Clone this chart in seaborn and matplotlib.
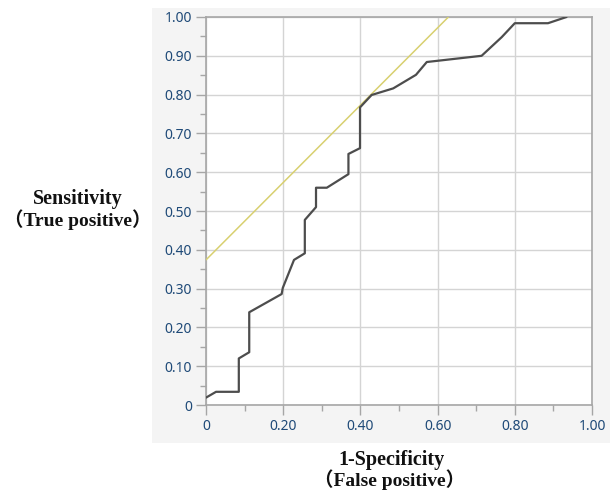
import matplotlib
matplotlib.use("Agg")
import matplotlib.pyplot as plt
from matplotlib.patches import Rectangle
from matplotlib.ticker import MultipleLocator, FixedLocator
import seaborn as sns
import pandas as pd

# ROC curve
fpr = [0.0, 0.026, 0.085, 0.085, 0.112, 0.112, 0.196, 0.199, 0.228, 0.256, 0.256,
       0.285, 0.285, 0.313, 0.369, 0.369, 0.399, 0.399, 0.429, 0.485, 0.544,
       0.572, 0.714, 0.766, 0.800, 0.886, 0.934]
tpr = [0.019, 0.034, 0.034, 0.120, 0.136, 0.239, 0.286, 0.302, 0.374, 0.391, 0.477,
       0.510, 0.560, 0.560, 0.595, 0.647, 0.662, 0.767, 0.799, 0.816, 0.851,
       0.884, 0.900, 0.948, 0.984, 0.984, 1.000]
# tangent (yellow) line
tan_x = [0.0, 0.628]
tan_y = [0.374, 1.0]

x_ticks = [0, 0.2, 0.4, 0.6, 0.8, 1.0]
x_tick_labels = ["0", "0.20", "0.40", "0.60", "0.80", "1.00"]
y_ticks = [0, 0.1, 0.2, 0.3, 0.4, 0.5, 0.6, 0.7, 0.8, 0.9, 1.0]
y_tick_labels = ["0", "0.10", "0.20", "0.30", "0.40", "0.50", "0.60", "0.70", "0.80", "0.90", "1.00"]

sns.set_theme(style="white")
plt.rcParams["font.family"] = ["Noto Sans", "DejaVu Sans"]

fig = plt.figure(figsize=(6.10, 4.94), dpi=100)
fig.patch.set_facecolor("white")
# light grey panel behind the chart and tick labels
fig.patches.append(Rectangle((152 / 610, 1 - 443 / 494), (610 - 152) / 610, (443 - 8) / 494,
                             transform=fig.transFigure, facecolor="#f4f4f4",
                             edgecolor="none", zorder=-5))

ax = fig.add_axes([206 / 610, 1 - 405 / 494, (592 - 206) / 610, (405 - 17) / 494])
ax.set_zorder(2)
ax.set_facecolor("white")

roc = pd.DataFrame({"fpr": fpr, "tpr": tpr})
tan = pd.DataFrame({"x": tan_x, "y": tan_y})
sns.lineplot(data=tan, x="x", y="y", sort=False, estimator=None, color="#d8d070",
             linewidth=1.1, ax=ax, zorder=3)
sns.lineplot(data=roc, x="fpr", y="tpr", sort=False, estimator=None, color="#4d4d4d",
             linewidth=1.6, ax=ax, zorder=4)

ax.set_xlim(0, 1)
ax.set_ylim(0, 1)
ax.xaxis.set_major_locator(FixedLocator(x_ticks))
ax.yaxis.set_major_locator(FixedLocator(y_ticks))
ax.xaxis.set_minor_locator(MultipleLocator(0.1))
ax.yaxis.set_minor_locator(MultipleLocator(0.05))
ax.set_xticklabels(x_tick_labels)
ax.set_yticklabels(y_tick_labels)
ax.grid(True, which="major", color="#d4d4d4", linewidth=1.0, zorder=1)
ax.set_axisbelow(True)
for s in ax.spines.values():
    s.set_visible(True)
    s.set_color("#a6a6a6")
    s.set_linewidth(1.2)
ax.tick_params(axis="both", which="major", direction="out", length=7, width=1.0,
               color="#a6a6a6", labelsize=10, labelcolor="#1f4a78", pad=3,
               bottom=True, left=True)
ax.tick_params(axis="both", which="minor", direction="out", length=4, width=1.0,
               color="#a6a6a6", bottom=True, left=True)
ax.set_xlabel("")
ax.set_ylabel("")

serif = ["Liberation Serif", "Noto Sans CJK JP"]
fig.text(78 / 610, 1 - 199 / 494, "Sensitivity", ha="center", va="center",
         fontsize=14.5, fontweight="bold", family=serif, color="#111111")
fig.text(78 / 610, 1 - 220 / 494, "（True positive）", ha="center", va="center",
         fontsize=14, fontweight="bold", family=serif, color="#111111")
fig.text(391 / 610, 1 - 460 / 494, "1-Specificity", ha="center", va="center",
         fontsize=14.5, fontweight="bold", family=serif, color="#111111")
fig.text(390 / 610, 1 - 480 / 494, "（False positive）", ha="center", va="center",
         fontsize=14, fontweight="bold", family=serif, color="#111111")

fig.savefig("out.png", dpi=100)
